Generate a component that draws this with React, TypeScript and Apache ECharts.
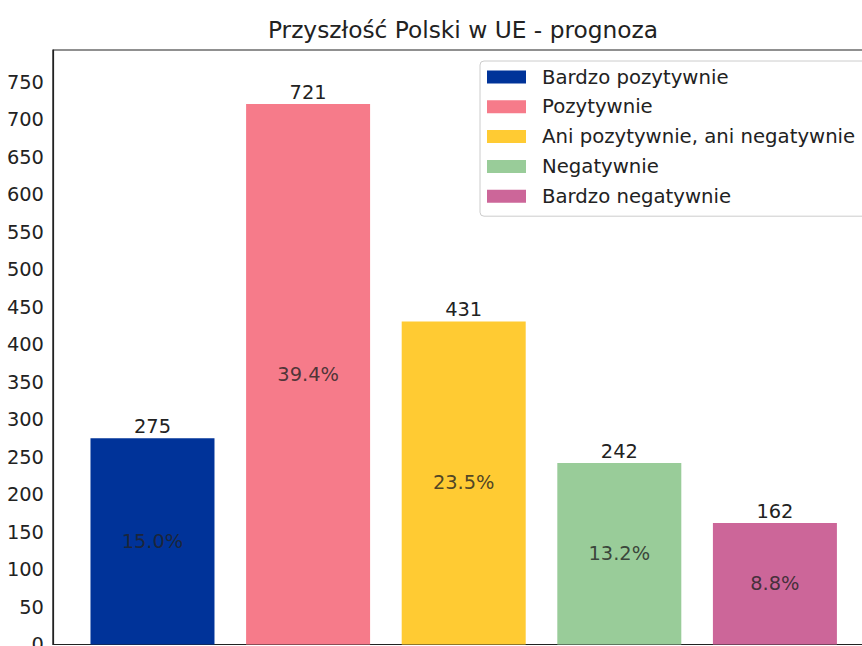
import React, { useEffect, useRef } from "react";
import * as echarts from "echarts";

const categories = [
  "Bardzo pozytywnie",
  "Pozytywnie",
  "Ani pozytywnie, ani negatywnie",
  "Negatywnie",
  "Bardzo negatywnie",
];
const counts = [275, 721, 431, 242, 162];
const percents = ["15.0%", "39.4%", "23.5%", "13.2%", "8.8%"];
const colors = ["#003399", "#F67B8A", "#FFCB33", "#99CC99", "#CC6699"];
const yTicksMax = 793.05;

const FONT = "DejaVu Sans";
const BASE = 19.4;

export default function App() {
  const ref = useRef<HTMLDivElement>(null);
  useEffect(() => {
    if (!ref.current) return;
    const chart = echarts.init(ref.current, null, { renderer: "svg" });
    const barSeries = categories.map((name, i) => ({
      name,
      type: "bar",
      stack: "all",
      barWidth: 124,
      data: [[i, counts[i]]],
      itemStyle: { color: colors[i] },
      label: {
        show: true,
        position: "top",
        distance: 2,
        fontFamily: FONT,
        fontSize: BASE,
        color: "#222",
        formatter: (p: any) => String(p.value[1]),
      },
      z: 2,
    }));
    const pctSeries = {
      name: "pct",
      type: "scatter",
      symbolSize: 0,
      data: counts.map((c, i) => [i, c / 2]),
      label: {
        show: true,
        position: "inside",
        fontFamily: FONT,
        fontSize: BASE,
        color: "#222",
        formatter: (p: any) => percents[p.dataIndex],
      },
      silent: true,
      z: 5,
    };
    chart.setOption({
      animation: false,
      backgroundColor: "#ffffff",
      textStyle: { fontFamily: FONT },
      graphic: [
        {
          type: "text",
          x: 463,
          y: 29,
          style: {
            text: "Przyszłość Polski w UE - prognoza",
            fontFamily: FONT,
            fontSize: 23.3,
            fill: "#222",
            align: "center",
            verticalAlign: "middle",
          },
        },
      ],
      grid: {
        left: 52.9,
        top: 50,
        width: 821.6,
        height: 594.5,
        outerBoundsMode: "none",
        containLabel: false,
        show: true,
        borderColor: "#222",
        borderWidth: 1.2,
        backgroundColor: "transparent",
      },
      legend: {
        data: categories,
        orient: "vertical",
        left: 480,
        top: 61,
        itemWidth: 39,
        itemHeight: 13,
        itemGap: 9.8,
        padding: [6, 14, 10, 7],
        borderColor: "#cccccc",
        borderWidth: 1,
        borderRadius: 4,
        backgroundColor: "rgba(255,255,255,0.8)",
        icon: "rect",
        textStyle: {
          fontFamily: FONT,
          fontSize: 19.7,
          color: "#222",
          padding: [0, 0, 0, 11],
        },
      },
      xAxis: {
        type: "value",
        min: -0.64,
        max: 4.64,
        axisLine: { show: false },
        axisTick: { show: false },
        axisLabel: { show: false },
        splitLine: { show: false },
      },
      yAxis: {
        type: "value",
        min: 0,
        max: yTicksMax,
        interval: 50,
        axisLine: {
          show: true,
          onZero: false,
          lineStyle: { color: "#222", width: 1.2 },
        },
        axisTick: { show: false },
        splitLine: { show: false },
        axisLabel: {
          showMaxLabel: false,
          margin: 9,
          fontFamily: FONT,
          fontSize: BASE,
          color: "#222",
        },
      },
      series: [...barSeries, pctSeries],
    });
    return () => chart.dispose();
  }, []);
  return (
    <div
      ref={ref}
      style={{ position: "fixed", left: 0, top: 0, width: 862, height: 646 }}
    />
  );
}
